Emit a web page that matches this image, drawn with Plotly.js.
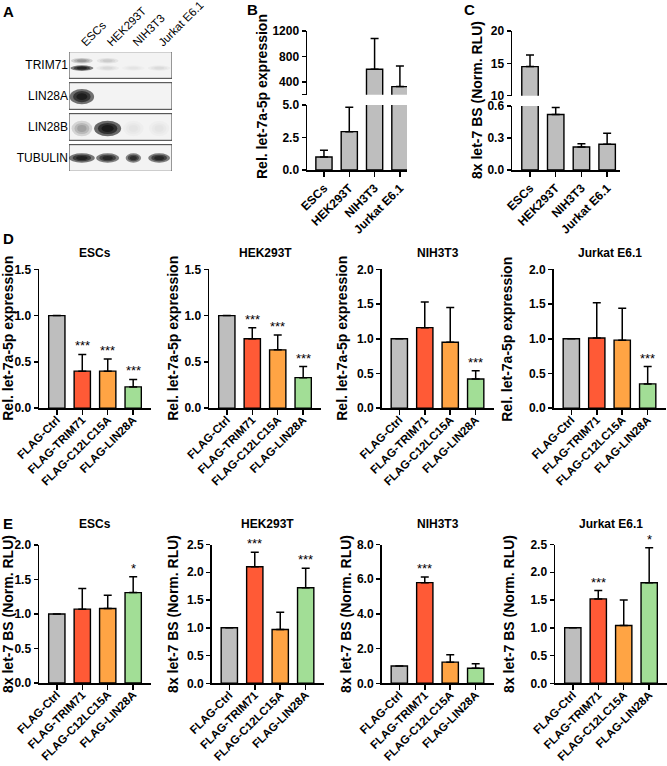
<!DOCTYPE html>
<html><head><meta charset="utf-8">
<script src="https://cdn.plot.ly/plotly-3.0.1.min.js"></script>
<style>body{margin:0;background:#fff}#chart{width:667px;height:766px}</style>
</head><body><div id="chart"></div>
<script>
// ================= DATA =================
// Panel A: western blot (relative band intensity 0..1)
const blotLanes = ['ESCs', 'HEK293T', 'NIH3T3', 'Jurkat E6.1'];
const blotProteins = ['TRIM71', 'LIN28A', 'LIN28B', 'TUBULIN'];
const trim71Band = [0.85, 0.06, 0.03, 0.05];
const trim71UpperBand = [0.25, 0.10, 0.0, 0.0];
const lin28aBand = [0.95, 0.0, 0.0, 0.0];
const lin28bBand = [0.22, 1.0, 0.03, 0.03];
const tubulinBand = [0.9, 0.85, 0.8, 0.85];

// Panel B / C
const cellLines = ['ESCs', 'HEK293T', 'NIH3T3', 'Jurkat E6.1'];
const let7Expr = [1.0, 2.95, 600, 327];
const let7ExprErr = [0.52, 1.87, 484, 322];
const let7Reporter = [14.5, 0.52, 0.216, 0.241];
const let7ReporterErr = [1.8, 0.066, 0.031, 0.103];

// Panels D / E
const constructs = ['FLAG-Ctrl', 'FLAG-TRIM71', 'FLAG-C12LC15A', 'FLAG-LIN28A'];
const dEscs = [1.0, 0.40, 0.40, 0.23];
const dEscsErr = [0, 0.18, 0.13, 0.08];
const dEscsSig = ['', '***', '***', '***'];
const dHek = [1.0, 0.75, 0.63, 0.33];
const dHekErr = [0, 0.12, 0.16, 0.12];
const dHekSig = ['', '***', '***', '***'];
const dNih = [1.0, 1.16, 0.95, 0.42];
const dNihErr = [0, 0.37, 0.50, 0.12];
const dNihSig = ['', '', '', '***'];
const dJurkat = [1.0, 1.01, 0.98, 0.35];
const dJurkatErr = [0, 0.51, 0.46, 0.25];
const dJurkatSig = ['', '', '', '***'];

const eEscs = [1.0, 1.07, 1.08, 1.31];
const eEscsErr = [0, 0.30, 0.19, 0.23];
const eEscsSig = ['', '', '', '*'];
const eHek = [1.0, 2.10, 0.97, 1.72];
const eHekErr = [0, 0.26, 0.31, 0.35];
const eHekSig = ['', '***', '', '***'];
const eNih = [1.0, 5.80, 1.22, 0.87];
const eNihErr = [0, 0.33, 0.43, 0.25];
const eNihSig = ['', '***', '', ''];
const eJurkat = [1.0, 1.52, 1.04, 1.81];
const eJurkatErr = [0, 0.15, 0.46, 0.63];
const eJurkatSig = ['', '***', '', '*'];

// ================= STYLE / LAYOUT =================
const W = 667, H = 766;
const FONT = 'Liberation Sans, Arial, Helvetica, sans-serif';
const px = x => x / W;
const py = y => 1 - y / H;
const GREY = '#BEBEBE';
const barColors = [GREY, '#FF5A36', '#FFA444', '#A2DE96'];
const TITLE_SIZE = 14;

const traces = [];
const layout = {
  width: W, height: H, margin: {l: 0, r: 0, t: 0, b: 0}, showlegend: false,
  paper_bgcolor: '#fff', plot_bgcolor: 'rgba(0,0,0,0)',
  font: {family: FONT, size: 12, color: '#000'},
  annotations: [], shapes: [], bargap: 0
};

function yAxis(top, bottom, range, tickvals, ticktext, anchor) {
  return {domain: [py(bottom), py(top)], range, tickvals, ticktext, anchor,
    showline: true, linecolor: '#000', linewidth: 1.5, ticks: 'outside', ticklen: 4,
    tickwidth: 1.5, tickcolor: '#000', showgrid: false, zeroline: false,
    tickfont: {family: FONT, size: 12, weight: 700, color: '#000'}, fixedrange: true};
}
function xAxis(left, right, range, anchor, fsize, standoff) {
  return {domain: [px(left), px(right)], range, anchor, type: 'category',
    showline: true, linecolor: '#000', linewidth: 1.5, ticks: 'outside',
    ticklen: 5, tickwidth: 1.5, tickcolor: '#000', showgrid: false, zeroline: false,
    tickangle: -45, ticklabelstandoff: standoff,
    tickfont: {family: FONT, size: fsize, weight: 700, color: '#000'}, fixedrange: true};
}
function barTrace(xs, vals, errs, colors, xa, ya) {
  return {type: 'bar', x: xs, y: vals, xaxis: xa, yaxis: ya, width: 0.64,
    marker: {color: colors, line: {color: '#000', width: 1.4}},
    error_y: {type: 'data', symmetric: false, array: errs, arrayminus: errs.map(() => 0),
      color: '#000', thickness: 1.5, width: 4},
    hoverinfo: 'skip', cliponaxis: true};
}
function yTitle(text, x, y) {
  layout.annotations.push({text, x: px(x), y: py(y), xref: 'paper', yref: 'paper',
    textangle: -90, showarrow: false, xanchor: 'center', yanchor: 'middle',
    font: {family: FONT, size: TITLE_SIZE, weight: 700}});
}
function label(text, x, y, size, weight) {
  layout.annotations.push({text, x: px(x), y: py(y), xref: 'paper', yref: 'paper',
    showarrow: false, xanchor: 'center', yanchor: 'middle',
    font: {family: FONT, size, weight}});
}

// ---------- Panel letters ----------
label('A', 8, 12, 15, 700);
label('B', 252, 9, 15, 700);
label('C', 469, 9, 15, 700);
label('D', 8, 238, 15, 700);
label('E', 8, 523, 15, 700);

// ---------- Panel A : western blot ----------
layout.xaxis11 = {domain: [px(69), px(172)], range: [0, 4], anchor: 'y13', side: 'top',
  tickvals: blotLanes.map((_, i) => i + 0.5), ticktext: blotLanes, tickangle: -45,
  ticks: '', showline: false, showgrid: false, zeroline: false,
  tickfont: {family: FONT, size: 11.5, color: '#000'}, fixedrange: true};
layout.yaxis13 = {domain: [py(171), py(52)], range: [3.42, -0.42], anchor: 'x11',
  tickvals: blotProteins.map((_, i) => i), ticktext: blotProteins, ticks: '',
  showline: false, showgrid: false, zeroline: false,
  tickfont: {family: FONT, size: 12, color: '#000'}, fixedrange: true};
traces.push({type: 'scatter', mode: 'markers', x: blotLanes.map((_, i) => i + 0.5),
  y: [0, 1, 2, 3], xaxis: 'x11', yaxis: 'y13', marker: {opacity: 0}, hoverinfo: 'skip'});
blotProteins.forEach((p, r) => {
  layout.shapes.push({type: 'rect', xref: 'x11', yref: 'y13', x0: 0, x1: 4, y0: r - 0.43, y1: r + 0.43,
    line: {color: '#3a3a3a', width: 1}, fillcolor: '#f3f3f3', layer: 'below'});
});
function band(row, lane, a, hh, ww, dy) {
  if (a <= 0) return;
  [1, 0.72, 0.45].forEach(s => {
    layout.shapes.push({type: 'circle', xref: 'x11', yref: 'y13',
      x0: lane + 0.5 - ww * s / 2, x1: lane + 0.5 + ww * s / 2,
      y0: row + dy - hh * s / 2, y1: row + dy + hh * s / 2,
      fillcolor: `rgba(12,12,12,${Math.min(1, a * 0.6).toFixed(3)})`, line: {width: 0}, layer: 'above'});
  });
}
trim71Band.forEach((a, i) => band(0, i, a, 0.18, 0.9, 0.1));
trim71UpperBand.forEach((a, i) => band(0, i, a, 0.18, 0.85, -0.14));
lin28aBand.forEach((a, i) => band(1, i, a, 0.5, 0.95, 0.02));
lin28bBand.forEach((a, i) => band(2, i, a, 0.5, i === 1 ? 1.05 : 0.8, 0.05));
tubulinBand.forEach((a, i) => band(3, i, a, 0.3, [1.0, 0.9, 0.6, 0.85][i], 0.0));

// ---------- Panel B (broken axis) ----------
layout.xaxis = xAxis(307, 407, [-0.67, 3.28], 'y', 12, 0);
layout.yaxis = yAxis(105, 170, [0, 5], [0, 2.5, 5], ['0.0', '2.5', '5.0'], 'x');
layout.yaxis2 = yAxis(31, 94.7, [200, 1200], [200, 400, 800, 1200], ['', '400', '800', '1200'], 'x');
traces.push(barTrace(cellLines, let7Expr, let7ExprErr.map((e, i) => let7Expr[i] <= 5 ? e : 0), cellLines.map(() => GREY), 'x', 'y'));
traces.push(barTrace(cellLines, let7Expr, let7ExprErr.map((e, i) => let7Expr[i] > 200 ? e : 0), cellLines.map(() => GREY), 'x', 'y2'));
yTitle('Rel. let-7a-5p expression', 262, 97);

// ---------- Panel C (broken axis) ----------
layout.xaxis2 = xAxis(512, 620, [-0.7, 3.5], 'y3', 12, 0);
layout.yaxis3 = yAxis(106, 170, [0, 0.6], [0, 0.3, 0.6], ['0.0', '0.3', '0.6'], 'x2');
layout.yaxis4 = yAxis(31, 95.7, [10, 20], [10, 15, 20], ['10', '15', '20'], 'x2');
traces.push(barTrace(cellLines, let7Reporter, let7ReporterErr.map((e, i) => let7Reporter[i] <= 0.6 ? e : 0), cellLines.map(() => GREY), 'x2', 'y3'));
traces.push(barTrace(cellLines, let7Reporter, let7ReporterErr.map((e, i) => let7Reporter[i] > 10 ? e : 0), cellLines.map(() => GREY), 'x2', 'y4'));
yTitle('8x let-7 BS (Norm. RLU)', 477, 100);

// ---------- Panels D / E ----------
const gridPanels = [
  {vals: dEscs, err: dEscsErr, sig: dEscsSig, title: 'ESCs', l: 39, top: 269.3, bot: 408.2, ymax: 1.5, dt: 0.5, ytx: 8, tty: 253, yt: 'Rel. let-7a-5p expression'},
  {vals: dHek, err: dHekErr, sig: dHekSig, title: 'HEK293T', l: 209, top: 269.3, bot: 408.2, ymax: 1.5, dt: 0.5, ytx: 173, tty: 253, yt: 'Rel. let-7a-5p expression'},
  {vals: dNih, err: dNihErr, sig: dNihSig, title: 'NIH3T3', l: 381.5, top: 269.3, bot: 408.2, ymax: 2.0, dt: 0.5, ytx: 342, tty: 253, yt: 'Rel. let-7a-5p expression'},
  {vals: dJurkat, err: dJurkatErr, sig: dJurkatSig, title: 'Jurkat E6.1', l: 553.5, top: 269.3, bot: 408.2, ymax: 2.0, dt: 0.5, ytx: 507, tty: 253, yt: 'Rel. let-7a-5p expression'},
  {vals: eEscs, err: eEscsErr, sig: eEscsSig, title: 'ESCs', l: 39, top: 545, bot: 683, ymax: 2.0, dt: 0.5, ytx: 8, tty: 524, yt: '8x let-7 BS (Norm. RLU)'},
  {vals: eHek, err: eHekErr, sig: eHekSig, title: 'HEK293T', l: 211.5, top: 544.5, bot: 683.3, ymax: 2.5, dt: 0.5, ytx: 173, tty: 524, yt: '8x let-7 BS (Norm. RLU)'},
  {vals: eNih, err: eNihErr, sig: eNihSig, title: 'NIH3T3', l: 381.5, top: 544.5, bot: 683.3, ymax: 8.0, dt: 2.0, ytx: 346, tty: 524, yt: '8x let-7 BS (Norm. RLU)'},
  {vals: eJurkat, err: eJurkatErr, sig: eJurkatSig, title: 'Jurkat E6.1', l: 555, top: 544.5, bot: 683.3, ymax: 2.5, dt: 0.5, ytx: 509, tty: 524, yt: '8x let-7 BS (Norm. RLU)'}
];
gridPanels.forEach((p, k) => {
  const xn = 3 + k, yn = 5 + k;
  const xa = 'x' + xn, ya = 'y' + yn;
  const right = p.l + 112;
  layout['xaxis' + xn] = xAxis(p.l, right, [-0.7, 3.7], ya, 11.5, -6);
  const tv = [];
  for (let v = 0; v <= p.ymax + 1e-9; v += p.dt) tv.push(+v.toFixed(2));
  layout['yaxis' + yn] = yAxis(p.top, p.bot, [0, p.ymax], tv, tv.map(v => v.toFixed(1)), xa);
  traces.push(barTrace(constructs, p.vals, p.err, barColors, xa, ya));
  label(p.title, (p.l + right) / 2, p.tty, 12, 700);
  yTitle(p.yt, p.ytx, (p.top + p.bot) / 2);
  p.sig.forEach((s, i) => {
    if (!s) return;
    layout.annotations.push({text: s, x: constructs[i], y: p.vals[i] + p.err[i], xref: xa, yref: ya,
      showarrow: false, xanchor: 'center', yanchor: 'bottom', yshift: -1,
      font: {family: FONT, size: 13, color: '#000'}});
  });
});

Plotly.newPlot('chart', traces, layout, {staticPlot: true, displayModeBar: false});
</script>
</body></html>
